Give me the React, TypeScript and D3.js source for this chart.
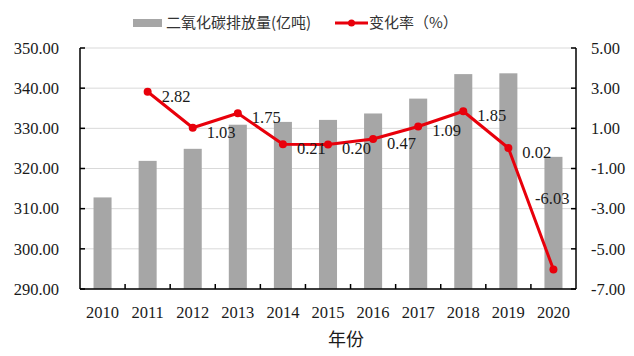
import React from "react";
import * as d3 from "d3";

const years = ["2010","2011","2012","2013","2014","2015","2016","2017","2018","2019","2020"];
const emissions = [312.8, 321.9, 324.9, 330.9, 331.6, 332.1, 333.7, 337.4, 343.5, 343.7, 322.9];
const changeYears = ["2011","2012","2013","2014","2015","2016","2017","2018","2019","2020"];
const changeRates = [2.82, 1.03, 1.75, 0.21, 0.20, 0.47, 1.09, 1.85, 0.02, -6.03];
const leftTicks = [290, 300, 310, 320, 330, 340, 350];
const rightTicks = [-7, -5, -3, -1, 1, 3, 5];
const barLegend = "二氧化碳排放量(亿吨)";
const lineLegend = "变化率（%）";
const xTitle = "年份";

const W = 634, H = 356;
const m = { l: 80, r: 58, t: 48, b: 67 };

export default function App() {
  const x = d3.scaleBand<string>().domain(years).range([m.l, W - m.r]).paddingInner(0).paddingOuter(0);
  const yL = d3.scaleLinear().domain([290, 350]).range([H - m.b, m.t]);
  const yR = d3.scaleLinear().domain([-7, 5]).range([H - m.b, m.t]);
  const bw = x.bandwidth() * 0.4;
  const cx = (y: string) => (x(y) as number) + x.bandwidth() / 2;
  const line = d3.line<number>().x((_, i) => cx(changeYears[i])).y((d) => yR(d));
  const serif = "'Liberation Serif', 'DejaVu Serif', serif";
  const cjk = "'Noto Sans CJK SC', sans-serif";
  const x0 = m.l, x1 = W - m.r, yb = H - m.b;
  const fs = 16.5;
  const txt = "#1a1a1a";
  return (
    <svg width={W} height={H} style={{ position: "absolute", left: 0, top: 0, background: "#fff" }}>
      {leftTicks.map((t) => (
        <line key={"g" + t} x1={x0} x2={x1} y1={yL(t)} y2={yL(t)} stroke="#d9d9d9" strokeWidth={1} />
      ))}
      {years.map((y, i) => (
        <rect key={y} x={cx(y) - bw / 2} y={yL(emissions[i])} width={bw} height={yb - yL(emissions[i])} fill="#a6a6a6" />
      ))}
      <line x1={x0} x2={x0} y1={m.t} y2={yb} stroke="#000" strokeWidth={1.5} />
      <line x1={x1} x2={x1} y1={m.t} y2={yb} stroke="#000" strokeWidth={1.5} />
      <line x1={x0} x2={x1} y1={yb} y2={yb} stroke="#000" strokeWidth={1.5} />
      {leftTicks.map((t) => (
        <g key={"l" + t}>
          <line x1={x0} x2={x0 + 5} y1={yL(t)} y2={yL(t)} stroke="#000" strokeWidth={1.5} />
          <text x={59} y={yL(t)} dy="0.35em" textAnchor="end" fontFamily={serif} fontSize={fs} fill={txt}>{t.toFixed(2)}</text>
        </g>
      ))}
      {rightTicks.map((t) => (
        <g key={"r" + t}>
          <line x1={x1 - 5} x2={x1} y1={yR(t)} y2={yR(t)} stroke="#000" strokeWidth={1.5} />
          <text x={591} y={yR(t)} dy="0.35em" textAnchor="start" fontFamily={serif} fontSize={fs} fill={txt}>{t.toFixed(2)}</text>
        </g>
      ))}
      {years.slice(1).map((y) => (
        <line key={"t" + y} x1={x(y) as number} x2={x(y) as number} y1={yb} y2={yb - 5} stroke="#000" strokeWidth={1.5} />
      ))}
      {years.map((y) => (
        <text key={"xl" + y} x={cx(y)} y={312} dy="0.35em" textAnchor="middle" fontFamily={serif} fontSize={fs} fill={txt}>{y}</text>
      ))}
      <text x={346} y={340} dy="0.35em" textAnchor="middle" fontFamily={cjk} fontSize={18} fill={txt}>{xTitle}</text>
      <path d={line(changeRates) || ""} fill="none" stroke="#e8000b" strokeWidth={3} strokeLinejoin="round" />
      {changeRates.map((v, i) => (
        <circle key={"c" + i} cx={cx(changeYears[i])} cy={yR(v)} r={4} fill="#e8000b" />
      ))}
      {changeRates.map((v, i) => {
        const last = i === changeRates.length - 1;
        const lx = last ? cx(changeYears[i]) + 16 : cx(changeYears[i]) + 14;
        const ly = last ? yR(v) - 71 : yR(v) + 4;
        return (
          <text key={"d" + i} x={lx} y={ly} dy="0.35em" textAnchor={last ? "end" : "start"} fontFamily={serif} fontSize={fs} fill={txt}>{v.toFixed(2)}</text>
        );
      })}
      <rect x={133} y={19} width={29} height={8} fill="#a6a6a6" />
      <text x={166} y={23} dy="0.35em" fontFamily={cjk} fontSize={15} fill="#333">{barLegend}</text>
      <line x1={335} x2={368} y1={23} y2={23} stroke="#e8000b" strokeWidth={3} />
      <circle cx={351.5} cy={23} r={3.5} fill="#e8000b" />
      <text x={369} y={23} dy="0.35em" fontFamily={cjk} fontSize={15} fill="#333">{lineLegend}</text>
    </svg>
  );
}
